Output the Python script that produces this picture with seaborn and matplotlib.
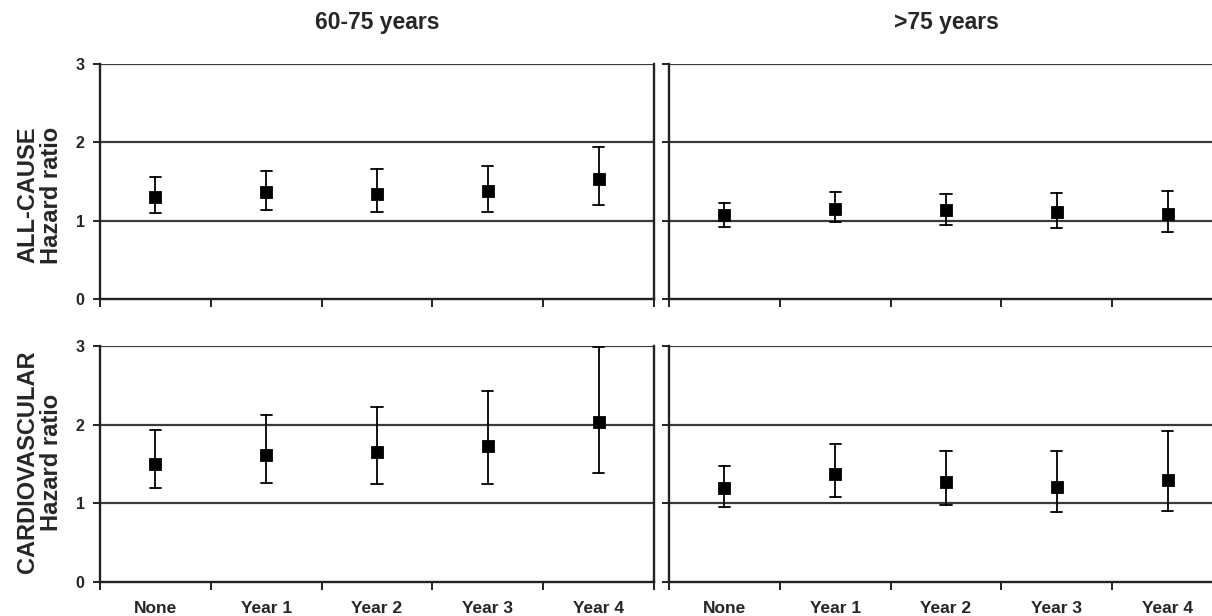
import numpy as np
import pandas as pd
import seaborn as sns
import matplotlib
matplotlib.use("Agg")
import matplotlib.pyplot as plt
from matplotlib.ticker import FixedLocator

# ---- data ----
categories = ["None", "Year 1", "Year 2", "Year 3", "Year 4"]
col_titles = ["60-75 years", ">75 years"]
row_labels = ["ALL-CAUSE", "CARDIOVASCULAR"]

hr_all_6075 = [1.30, 1.36, 1.345, 1.38, 1.53]
lo_all_6075 = [1.10, 1.135, 1.105, 1.105, 1.20]
hi_all_6075 = [1.555, 1.64, 1.66, 1.70, 1.94]

hr_all_75 = [1.067, 1.15, 1.135, 1.105, 1.09]
lo_all_75 = [0.92, 0.985, 0.95, 0.91, 0.86]
hi_all_75 = [1.23, 1.36, 1.34, 1.35, 1.385]

hr_cv_6075 = [1.496, 1.62, 1.65, 1.73, 2.03]
lo_cv_6075 = [1.19, 1.26, 1.24, 1.24, 1.39]
hi_cv_6075 = [1.93, 2.12, 2.23, 2.43, 2.99]

hr_cv_75 = [1.19, 1.37, 1.27, 1.21, 1.30]
lo_cv_75 = [0.95, 1.08, 0.98, 0.89, 0.90]
hi_cv_75 = [1.48, 1.75, 1.67, 1.67, 1.92]

y_ticks = [0, 1, 2, 3]

panels = [
    [(hr_all_6075, lo_all_6075, hi_all_6075), (hr_all_75, lo_all_75, hi_all_75)],
    [(hr_cv_6075, lo_cv_6075, hi_cv_6075), (hr_cv_75, lo_cv_75, hi_cv_75)],
]

sns.set_theme(style="white")
plt.rcParams["font.family"] = ["Liberation Sans", "DejaVu Sans"]
plt.rcParams["font.weight"] = "bold"

W, H = 1212, 616
fig = plt.figure(figsize=(W / 100, H / 100), dpi=100)

# axes rectangles in pixels
col_left = [100, 669]
row_top = [64, 346]
ax_w = 554
ax_h = [235, 236]

for r in range(2):
    for c in range(2):
        hr, lo, hi = panels[r][c]
        rect = [col_left[c] / W, 1 - (row_top[r] + ax_h[r]) / H, ax_w / W, ax_h[r] / H]
        ax = fig.add_axes(rect)
        # long-form table: three values per category (lo, hr, hi)
        df = pd.DataFrame({
            "cat": np.repeat(categories, 3),
            "val": np.ravel(np.column_stack([lo, hr, hi])),
        })
        sns.pointplot(
            data=df, x="cat", y="val", order=categories,
            estimator="median", errorbar=lambda v: (np.min(v), np.max(v)),
            color="black", marker="s", markersize=7, linestyle="none",
            capsize=0.1, err_kws={"linewidth": 1.3, "color": "black"},
            ax=ax, zorder=5,
        )
        ax.set_xlim(-0.5, 4.5)
        ax.set_ylim(0, 3)
        ax.set_xlabel("")
        ax.set_ylabel("")
        for yv in [1, 2, 3]:
            ax.axhline(yv, color="#3a3a3a", linewidth=1.6, zorder=1)
        for s in ["left", "bottom", "right"]:
            ax.spines[s].set_visible(True)
            ax.spines[s].set_color("#222222")
            ax.spines[s].set_linewidth(1.7)
        ax.spines["top"].set_visible(False)
        ax.set_yticks(y_ticks)
        ax.tick_params(axis="y", which="major", direction="out", length=5,
                       width=1.4, color="#222222", left=True, pad=6,
                       labelsize=11.5)
        ax.xaxis.set_minor_locator(FixedLocator(np.arange(-0.5, 5.0, 1.0)))
        ax.tick_params(axis="x", which="minor", direction="out", length=6,
                       width=1.4, color="#222222", bottom=True)
        ax.tick_params(axis="x", which="major", length=0, pad=14,
                       labelsize=12.5)
        if c == 1:
            ax.set_yticklabels([])
        else:
            for t in ax.get_yticklabels():
                t.set_fontweight("bold")
        if r == 0:
            ax.set_xticklabels([])
            ax.set_title(col_titles[c], fontsize=16.5, fontweight="bold",
                         pad=25)
        else:
            for t in ax.get_xticklabels():
                t.set_fontweight("bold")

# row labels
for r, yc in zip(range(2), [195, 462]):
    fig.text(28 / W, 1 - yc / H, row_labels[r], rotation=90, ha="center",
             va="center", fontsize=17, fontweight="bold")
    fig.text(51 / W, 1 - yc / H, "Hazard ratio", rotation=90, ha="center",
             va="center", fontsize=17, fontweight="bold")

fig.savefig("out.png", dpi=100)
